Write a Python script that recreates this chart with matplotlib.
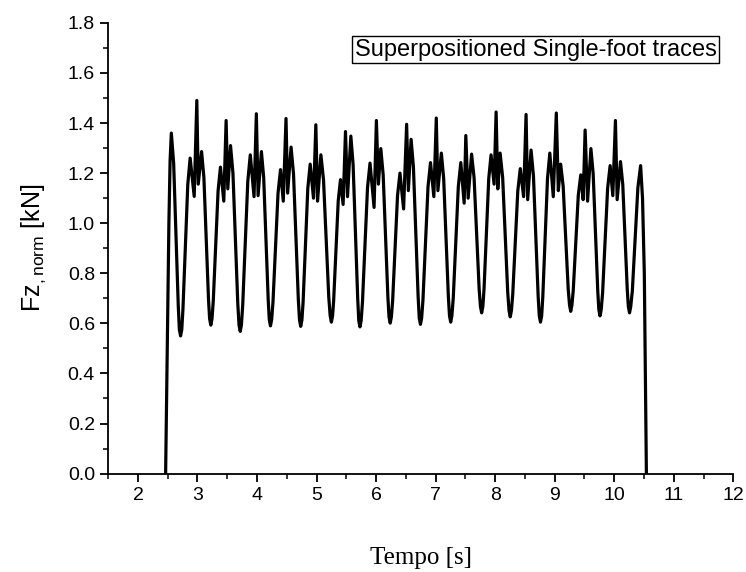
import matplotlib
matplotlib.use('Agg')
import matplotlib.pyplot as plt
from matplotlib.ticker import MultipleLocator

# trace, one row per step:
# time [s] and normalised vertical force [kN]
tempo = [
    2.465, 2.52, 2.54, 2.561, 2.600, 2.639, 2.677, 2.696, 2.716, 2.736,
    2.756, 2.797, 2.837, 2.877, 2.945, 2.989, 3.013, 3.069, 3.108, 3.147, 3.185, 3.204, 3.224, 3.244,
    3.265, 3.305, 3.346, 3.386, 3.442, 3.481, 3.509, 3.555, 3.596, 3.637, 3.677, 3.698, 3.718, 3.738,
    3.760, 3.803, 3.845, 3.887, 3.950, 3.989, 4.018, 4.074, 4.112, 4.150, 4.188, 4.206, 4.226, 4.246,
    4.268, 4.311, 4.353, 4.395, 4.441, 4.487, 4.514, 4.572, 4.613, 4.653, 4.694, 4.714, 4.734, 4.754,
    4.774, 4.814, 4.853, 4.893, 4.949, 4.988, 5.017, 5.073, 5.117, 5.161, 5.205, 5.229, 5.249, 5.269,
    5.287, 5.326, 5.364, 5.402, 5.446, 5.486, 5.520, 5.576, 5.614, 5.653, 5.691, 5.709, 5.729, 5.749,
    5.771, 5.814, 5.856, 5.898, 5.966, 6.005, 6.039, 6.079, 6.119, 6.158, 6.198, 6.217, 6.237, 6.257,
    6.278, 6.319, 6.360, 6.401, 6.462, 6.513, 6.542, 6.588, 6.627, 6.667, 6.706, 6.725, 6.745, 6.765,
    6.787, 6.830, 6.872, 6.914, 6.970, 7.011, 7.038, 7.096, 7.135, 7.175, 7.214, 7.233, 7.253, 7.273,
    7.296, 7.338, 7.381, 7.423, 7.479, 7.507, 7.546, 7.604, 7.646, 7.689, 7.731, 7.753, 7.773, 7.793,
    7.813, 7.852, 7.892, 7.931, 7.982, 8.016, 8.044, 8.083, 8.126, 8.168, 8.211, 8.233, 8.253, 8.273,
    8.295, 8.338, 8.380, 8.422, 8.478, 8.519, 8.546, 8.603, 8.643, 8.682, 8.722, 8.741, 8.761, 8.781,
    8.800, 8.840, 8.879, 8.918, 8.976, 9.027, 9.061, 9.100, 9.142, 9.185, 9.227, 9.249, 9.269, 9.289,
    9.311, 9.354, 9.396, 9.438, 9.478, 9.511, 9.552, 9.608, 9.646, 9.685, 9.723, 9.741, 9.761, 9.781,
    9.804, 9.846, 9.889, 9.931, 9.976, 10.020, 10.049, 10.105, 10.143, 10.181, 10.219, 10.237, 10.257, 10.277,
    10.304, 10.350, 10.397, 10.443, 10.475, 10.505, 10.54,
]
fz_norm = [
    0.0, 1.0, 1.25, 1.36, 1.239, 0.955, 0.672, 0.575, 0.55, 0.575,
    0.657, 0.905, 1.154, 1.26, 1.107, 1.49, 1.156, 1.286, 1.182, 0.940, 0.697, 0.618, 0.593, 0.618,
    0.688, 0.909, 1.129, 1.224, 1.088, 1.41, 1.137, 1.31, 1.199, 0.939, 0.679, 0.593, 0.568, 0.593,
    0.674, 0.921, 1.167, 1.273, 1.106, 1.437, 1.11, 1.286, 1.182, 0.938, 0.694, 0.615, 0.59, 0.615,
    0.684, 0.902, 1.120, 1.214, 1.088, 1.418, 1.12, 1.304, 1.197, 0.946, 0.695, 0.613, 0.588, 0.613,
    0.685, 0.912, 1.139, 1.236, 1.10, 1.393, 1.088, 1.273, 1.173, 0.939, 0.705, 0.63, 0.605, 0.63,
    0.690, 0.890, 1.089, 1.174, 1.075, 1.366, 1.106, 1.348, 1.234, 0.967, 0.700, 0.611, 0.586, 0.611,
    0.684, 0.913, 1.142, 1.24, 1.063, 1.41, 1.156, 1.298, 1.193, 0.950, 0.706, 0.626, 0.601, 0.626,
    0.691, 0.901, 1.110, 1.20, 1.057, 1.395, 1.13, 1.335, 1.224, 0.966, 0.707, 0.621, 0.596, 0.621,
    0.693, 0.919, 1.145, 1.242, 1.106, 1.42, 1.13, 1.28, 1.179, 0.943, 0.706, 0.63, 0.605, 0.63,
    0.701, 0.924, 1.146, 1.242, 1.08, 1.35, 1.10, 1.276, 1.181, 0.959, 0.737, 0.667, 0.642, 0.667,
    0.737, 0.958, 1.178, 1.273, 1.156, 1.444, 1.137, 1.28, 1.182, 0.953, 0.724, 0.651, 0.626, 0.651,
    0.715, 0.922, 1.129, 1.218, 1.106, 1.434, 1.094, 1.292, 1.189, 0.949, 0.708, 0.63, 0.605, 0.63,
    0.706, 0.943, 1.179, 1.28, 1.106, 1.44, 1.13, 1.236, 1.148, 0.942, 0.736, 0.673, 0.648, 0.673,
    0.730, 0.921, 1.111, 1.193, 1.094, 1.372, 1.088, 1.298, 1.198, 0.964, 0.730, 0.655, 0.63, 0.655,
    0.720, 0.930, 1.140, 1.23, 1.11, 1.41, 1.094, 1.246, 1.155, 0.944, 0.733, 0.667, 0.642, 0.667,
    0.730, 0.936, 1.142, 1.23, 1.10, 0.80, 0.0,
]

title_txt = 'Superpositioned Single-foot traces'

plt.rcParams['font.family'] = ['Liberation Sans', 'DejaVu Sans']
plt.rcParams['mathtext.fontset'] = 'custom'
plt.rcParams['mathtext.rm'] = 'Liberation Sans'

fig = plt.figure(figsize=(7.46, 5.72), dpi=100)
ax = fig.add_axes([0.145, 0.172, 0.838, 0.788])

ax.plot(tempo, fz_norm, color='black', linewidth=2.3,
        solid_joinstyle='round', solid_capstyle='round')

ax.set_xlim(1.5, 12)
ax.set_ylim(0, 1.8)
ax.xaxis.set_major_locator(MultipleLocator(1))
ax.xaxis.set_minor_locator(MultipleLocator(0.5))
ax.yaxis.set_major_locator(MultipleLocator(0.2))
ax.yaxis.set_minor_locator(MultipleLocator(0.1))
ax.yaxis.set_major_formatter(plt.FormatStrFormatter('%.1f'))

for side in ('top', 'right'):
    ax.spines[side].set_visible(False)
for side in ('left', 'bottom'):
    ax.spines[side].set_linewidth(1.3)

ax.tick_params(which='major', direction='out', length=6, width=1.3, labelsize=14)
ax.tick_params(which='minor', direction='out', length=3.5, width=1.1)

ax.set_xlabel('Tempo [s]', family='Liberation Serif', fontsize=18, labelpad=31)
ax.set_ylabel(r'Fz$_{\mathregular{,norm}}$ [kN]', fontsize=18, labelpad=14)

ax.text(0.973, 0.965, title_txt, transform=ax.transAxes, ha='right', va='top',
        fontsize=17,
        bbox=dict(boxstyle='square,pad=0.1', facecolor='white', edgecolor='black', linewidth=1.0))

fig.savefig('out.png', dpi=100)
